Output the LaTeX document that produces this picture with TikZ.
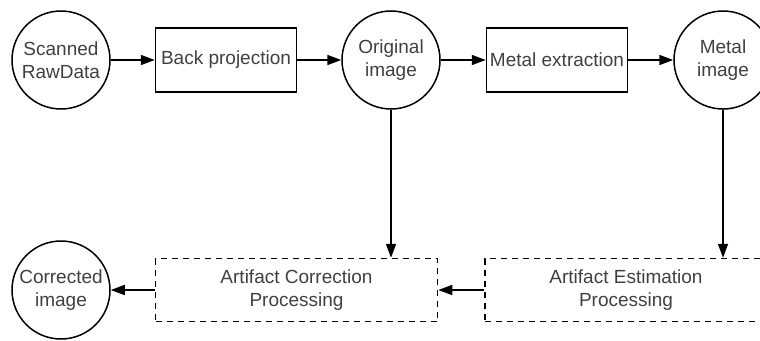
\documentclass[tikz,border=0pt]{standalone}
\usepackage{fontspec}
\setmainfont{Liberation Sans}
\usetikzlibrary{positioning,arrows.meta}

\begin{document}
\begin{tikzpicture}[x=1pt, y=1pt, align=center,
      font=\fontsize{19}{23}\selectfont, text=black!75,
      data/.style={draw=black, circle, line width=1.5pt, minimum size=98pt, inner sep=0pt},
      proc/.style={draw=black, line width=1.5pt, minimum width=141pt, minimum height=64pt},
      est/.style ={draw=black, line width=1.5pt, dash pattern=on 6pt off 5pt,
                   minimum width=282pt, minimum height=63pt},  ]

    \useasboundingbox (0,0) rectangle (760,-340);
    \clip (0,0) rectangle (760,-340);

    % top row
    \node[data] (raw) at (61,-60) {Scanned\\RawData};
    \begin{scope}[node distance=44pt]
      \node[proc, right = of raw ] (bp)    {Back projection};
      \node[data, right = of bp  ] (orig)  {Original\\image};
    \end{scope}
    \begin{scope}[node distance=45pt]
      \node[proc, right = of orig] (me)    {Metal extraction};
      \node[data, right = of me  ] (metal) {Metal\\image};
    \end{scope}

    % bottom row
    \node[data] (corr) at (61,-290) {Corrected\\image};
    \node[est, right = 44pt of corr] (acp) {Artifact Correction\\Processing};
    \node[est, right = 46pt of acp ] (aep) {Artifact Estimation\\Processing};

    \begin{scope}[line width=1.7pt, >={Triangle[length=14pt,width=10pt]}]
      \draw[->] (raw)   -- (bp);
      \draw[->] (bp)    -- (orig);
      \draw[->] (orig)  -- (me);
      \draw[->] (me)    -- (metal);
      \draw[->] (orig.south)  -- (orig.south |- acp.north);
      \draw[->] (metal.south) -- (metal.south |- aep.north);
      \draw[->] (aep)   -- (acp);
      \draw[->] (acp)   -- (corr);
    \end{scope}

\end{tikzpicture}
\end{document}
